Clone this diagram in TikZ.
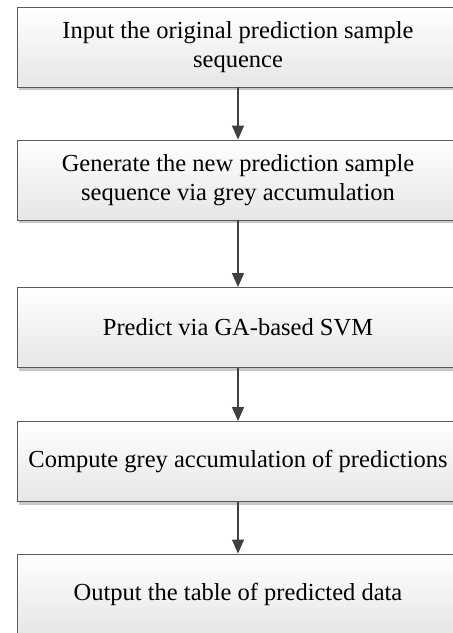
\documentclass[tikz,border=0pt]{standalone}
\usepackage{fontspec}
\setmainfont{Liberation Serif}
\usetikzlibrary{arrows.meta,backgrounds}

\definecolor{boxline}{HTML}{5A5A5A}
\definecolor{boxfill}{HTML}{E6E6E6}
\definecolor{shadowgray}{HTML}{C8C8C8}
\definecolor{arrowgray}{HTML}{404040}

\begin{document}
\begin{tikzpicture}[x=1pt,y=1pt,
  stepbox/.style={draw=boxline, line width=0.9pt,
    top color=white, bottom color=boxfill,
    minimum width=442pt, minimum height=80pt,
    inner sep=0pt, align=center,
    font=\fontsize{24.5}{28.5}\selectfont},
  flow/.style={draw=arrowgray, line width=1.4pt,
    -{Triangle[length=14pt,width=12pt]}}
]
\clip (0,0) rectangle (453,-633);
\useasboundingbox (0,0) rectangle (453,-633);

\node[stepbox] (b1) at (238,-47)    {Input the original prediction sample\\sequence};
\node[stepbox] (b2) at (238,-180)   {Generate the new prediction sample\\sequence via grey accumulation};
\node[stepbox] (b3) at (238,-327.5) {Predict via GA-based SVM};
\node[stepbox] (b4) at (238,-461.5) {Compute grey accumulation of predictions};
\node[stepbox] (b5) at (238,-594)   {Output the table of predicted data};

% soft offset shadows behind the boxes
\begin{scope}[on background layer]
  \foreach \n in {b1,b2,b3,b4,b5}
    \fill[shadowgray] ([xshift=2pt,yshift=-3pt]\n.south west)
      rectangle ([xshift=2pt,yshift=-3pt]\n.north east);
\end{scope}

\draw[flow] (b1) -- (b2);
\draw[flow] (b2) -- (b3);
\draw[flow] (b3) -- (b4);
\draw[flow] (b4) -- (b5);
\end{tikzpicture}
\end{document}
